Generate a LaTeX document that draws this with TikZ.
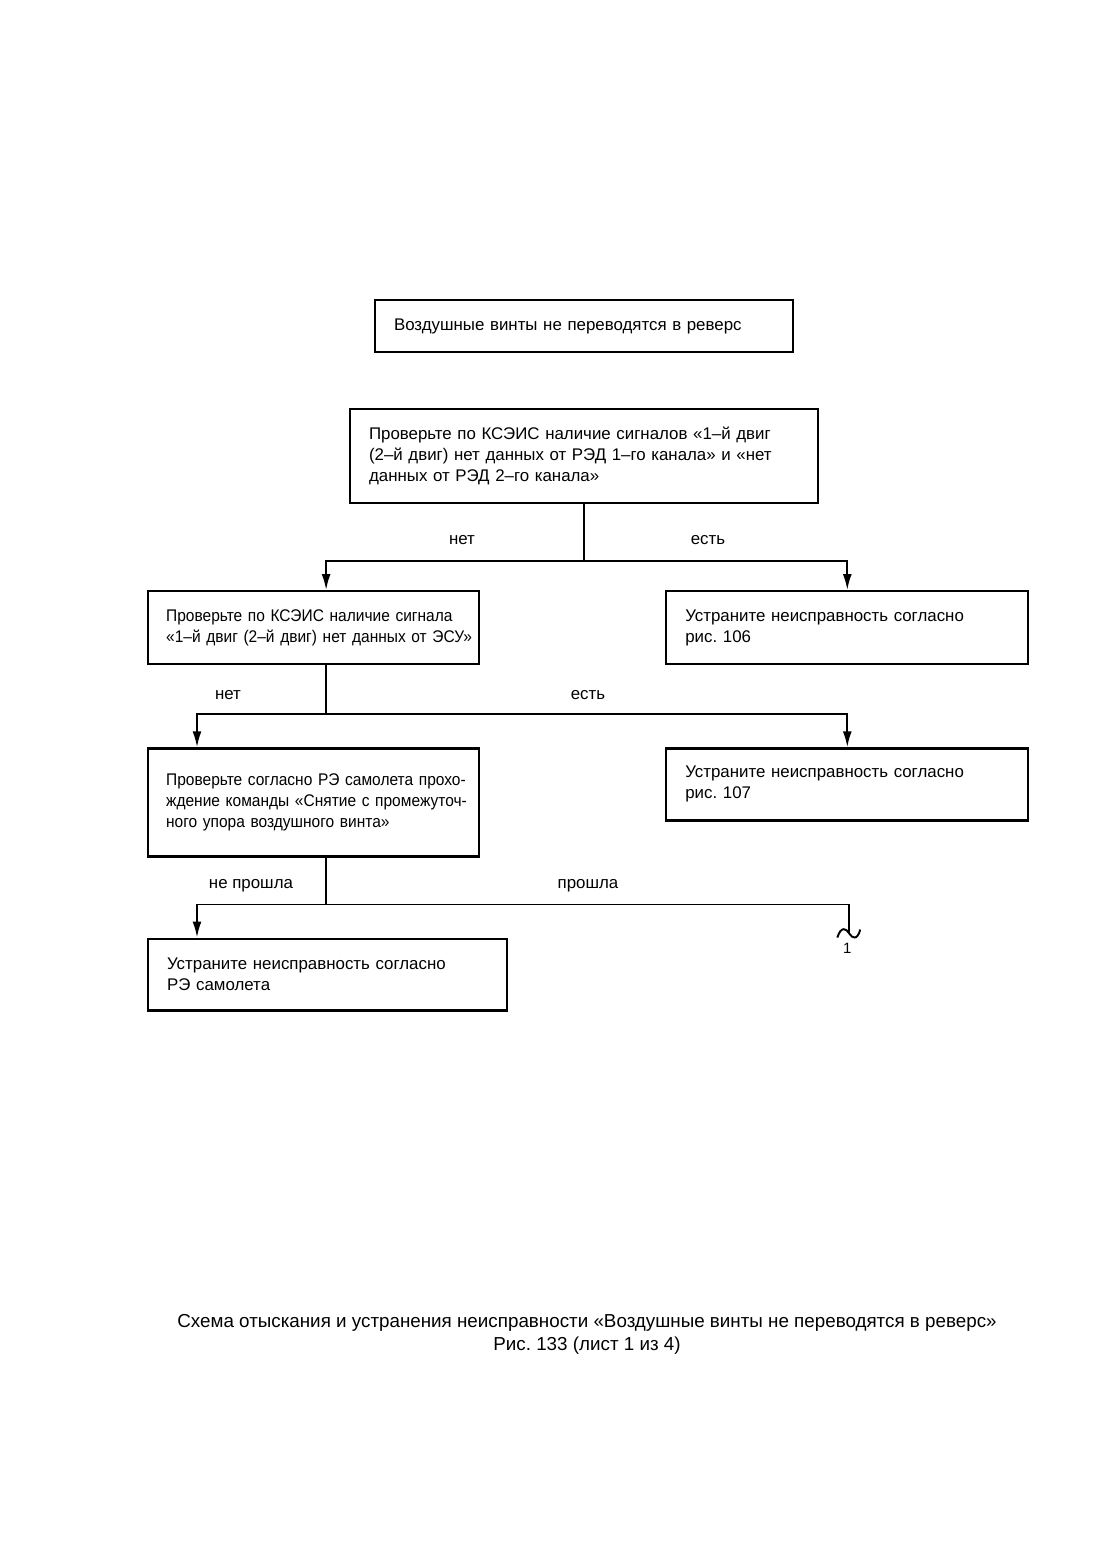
\documentclass[tikz,border=0pt]{standalone}
\usepackage{fontspec}
\setmainfont{Liberation Sans}
\newfontfamily\narrowfont[FakeStretch=0.92]{Liberation Sans}
\frenchspacing
\usetikzlibrary{arrows.meta,positioning,calc}

\begin{document}
\begin{tikzpicture}[
  x=0.02cm, y=-0.02cm,
  stepbox/.style={draw, line width=1.3pt, inner xsep=0.38cm, inner ysep=0pt, align=left, font=\fontsize{9.6}{11.95}\selectfont, execute at begin node={\rightskip=-0.3cm plus 1fil}},
  narrowbox/.style={stepbox, font=\narrowfont\fontsize{9.6}{11.95}\selectfont},
  lbl/.style={inner sep=0pt, anchor=base, font=\fontsize{9.6}{11.95}\selectfont},
  conn/.style={line width=1.1pt},
  arr/.style={conn, -{Latex[length=0.32cm,width=0.18cm]}}
]
  \useasboundingbox (0,0) rectangle (1108,1554);

  \node[stepbox, minimum width=8.36cm, minimum height=1.04cm, text width=7.6cm] (fault) at (584,326) {Воздушные винты не переводятся в реверс};
  \node[stepbox, below=1.1cm of fault, minimum width=9.36cm, minimum height=1.88cm, text width=8.6cm] (check) {Проверьте по КСЭИС наличие сигналов «1–й двиг\\(2–й двиг) нет данных от РЭД 1–го канала» и «нет\\данных от РЭД 2–го канала»};
  \node[narrowbox, anchor=north west, minimum width=6.62cm, minimum height=1.46cm, text width=5.9cm, inner xsep=0.36cm] (esu) at (147,590) {Проверьте по КСЭИС наличие сигнала\\«1–й двиг (2–й двиг) нет данных от ЭСУ»};
  \node[stepbox, right=3.7cm of esu, minimum width=7.24cm, minimum height=1.46cm, text width=6.48cm] (fix106) {Устраните неисправность согласно\\рис. 106};
  \node[narrowbox, below=1.64cm of esu, minimum width=6.62cm, minimum height=2.16cm, text width=5.9cm, inner xsep=0.36cm] (cmd) {Проверьте согласно РЭ самолета прохо-\\ждение команды «Снятие с промежуточ-\\ного упора воздушного винта»};
  \node[stepbox, below=1.64cm of fix106, minimum width=7.24cm, minimum height=1.44cm, text width=6.48cm] (fix107) {Устраните неисправность согласно\\рис. 107};
  \node[stepbox, below=1.6cm of cmd.south west, anchor=north west, minimum width=7.18cm, minimum height=1.44cm, text width=6.42cm] (fixre) {Устраните неисправность согласно\\РЭ самолета};

  \coordinate (j1) at ($(check.south)+(0,57)$);
  \coordinate (j2) at ($(esu.south)+(12.5,49)$);
  \coordinate (j3) at ($(cmd.south)+(12.5,47)$);
  \coordinate (cont) at ($(fix107.south)+(2,112)$);

  \draw[conn] (check.south) -- (j1);
  \draw[arr] (j1) -| ([xshift=0.25cm]esu.north);
  \draw[arr] (j1) -| (fix106.north);
  \draw[conn] (esu.south -| j2) -- (j2);
  \draw[arr] (j2) -| ([xshift=1cm]cmd.north west);
  \draw[arr] (j2) -| (fix107.north);
  \draw[conn] (cmd.south -| j3) -- (j3);
  \draw[arr] (j3) -| ([xshift=1cm]fixre.north west);
  \draw[conn] (j3) -| (cont);
  \draw[conn] ($(cont)+(-12,4)$) .. controls ($(cont)+(-8,-8)$) and ($(cont)+(-3,-5)$) .. (cont) .. controls ($(cont)+(3,5)$) and ($(cont)+(8,7)$) .. ($(cont)+(11,-4)$);

  \node[lbl] (no1) at (462,544) {нет};
  \node[lbl] (yes1) at (708,544) {есть};
  \node[lbl] (no2) at (228,699) {нет};
  \node[lbl] (yes2) at (588,699) {есть};
  \node[lbl] (fail) at (251,888) {не прошла};
  \node[lbl] (pass) at (588,888) {прошла};
  \node[lbl, font=\fontsize{8.5}{10}\selectfont] (sheet) at ($(cont)+(-2,20)$) {1};

  \node[inner sep=0pt, align=center, font=\fontsize{10.7}{13}\selectfont] (caption) at (587,1334) {Схема отыскания и устранения неисправности «Воздушные винты не переводятся в реверс»\\Рис. 133 (лист 1 из 4)};
\end{tikzpicture}
\end{document}
